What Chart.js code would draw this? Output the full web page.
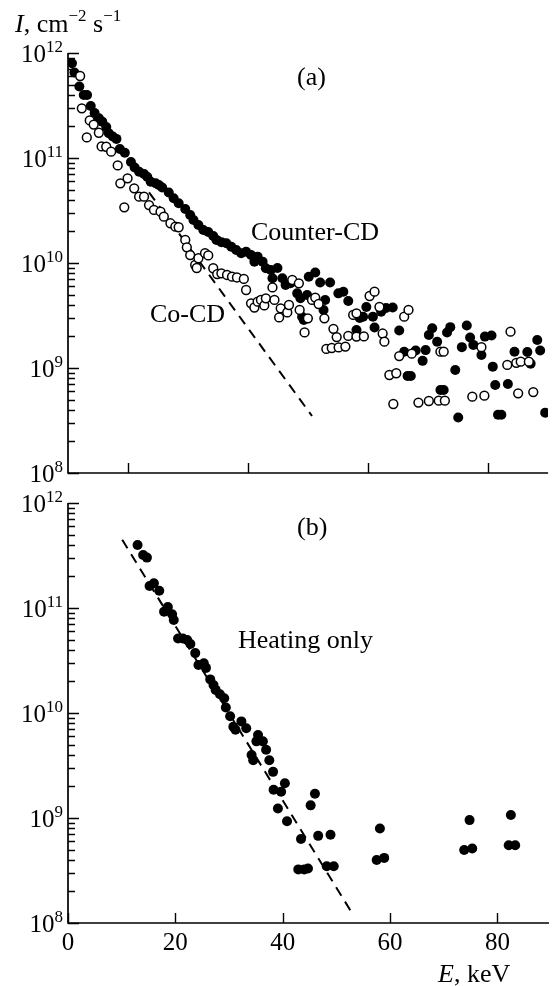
<!DOCTYPE html>
<html>
<head>
<meta charset="utf-8">
<script src="https://cdn.jsdelivr.net/npm/chart.js@4.4.0/dist/chart.umd.min.js"></script>
<style>
  html, body { margin: 0; padding: 0; background: #fff; }
  #wrap { position: relative; width: 554px; height: 986px; }
  canvas { position: absolute; left: 0; }
  #chartA { top: 0; }
  #chartB { top: 486px; }
</style>
</head>
<body>
<div id="wrap">
  <canvas id="chartA" width="554" height="486"></canvas>
  <canvas id="chartB" width="554" height="500"></canvas>
</div>
<script>
// (a) Counter-CD, filled circles
const counterE = [0.66, 1.07, 1.89, 2.63, 3.18, 3.79, 4.44, 5.15, 5.71, 6.37, 6.80, 7.46, 8.07, 8.64, 9.47,
  10.49, 11.11, 11.85, 12.67, 13.22, 13.78, 14.60, 15.14, 15.69, 16.79, 17.61, 18.44, 19.54, 20.36, 20.91,
  21.73, 22.55, 23.37, 24.20, 24.74, 25.56, 26.39, 27.21, 28.03, 28.86, 29.68, 30.50, 31.06, 31.60, 32.43,
  32.97, 33.79, 34.07, 34.90, 35.72, 36.26, 37.09, 38.19, 38.73, 39.01, 39.29, 39.84, 40.12, 41.20, 42.02,
  42.58, 42.85, 43.67, 45.05, 45.88, 46.70, 48.07, 48.61, 49.17, 49.71, 50.81, 51.08, 52.18, 53.00, 54.11,
  55.19, 56.02, 56.58, 57.12, 57.94, 59.09, 59.59, 60.13, 60.69, 61.51, 62.06, 62.60, 63.16, 63.70, 64.53,
  65.02, 65.63, 66.45, 67.00, 67.54, 68.89, 69.47, 70.57, 70.78, 71.19, 71.65, 72.21, 73.30, 74.40, 76.54,
  77.09, 78.19, 78.68, 79.51];
const counterI = [7.98e11, 6.52e11, 4.80e11, 3.98e11, 3.98e11, 3.13e11, 2.68e11, 2.39e11, 2.22e11, 1.97e11,
  1.72e11, 1.60e11, 1.52e11, 1.22e11, 1.12e11, 9.16e10, 8.12e10, 7.41e10, 7.04e10, 6.59e10, 5.95e10, 5.74e10,
  5.53e10, 5.24e10, 4.69e10, 4.13e10, 3.71e10, 3.27e10, 2.86e10, 2.57e10, 2.30e10, 2.06e10, 1.97e10, 1.81e10,
  1.66e10, 1.58e10, 1.54e10, 1.43e10, 1.33e10, 1.24e10, 1.28e10, 1.19e10, 1.03e10, 1.15e10, 1.03e10, 8.91e9,
  8.58e9, 7.15e9, 8.96e9, 7.15e9, 6.17e9, 6.41e9, 5.14e9, 4.61e9, 3.08e9, 2.86e9, 4.95e9, 7.41e9, 8.13e9,
  6.52e9, 3.57e9, 4.45e9, 6.52e9, 5.14e9, 5.33e9, 4.35e9, 2.30e9, 2.99e9, 3.08e9, 3.81e9, 3.08e9, 2.43e9,
  3.44e9, 3.73e9, 3.77e9, 2.28e9, 1.43e9, 8.39e8, 8.39e8, 1.47e9, 1.17e9, 1.48e9, 2.06e9, 2.39e9, 1.78e9,
  6.17e8, 6.17e8, 2.18e9, 2.45e9, 9.57e8, 3.38e8, 1.58e9, 2.54e9, 1.95e9, 1.66e9, 1.33e9, 1.99e9, 2.04e9,
  1.03e9, 6.89e8, 3.59e8, 3.59e8, 7.05e8, 1.43e9, 1.42e9, 1.10e9, 1.85e9, 1.47e9, 3.75e8];

// (a) Co-CD, open circles
const coE = [2.02, 2.30, 3.13, 3.62, 4.28, 5.14, 5.60, 6.37, 7.19, 8.28, 8.72, 9.38, 9.93, 11.03, 11.85,
  12.67, 13.50, 14.32, 15.42, 15.97, 17.07, 17.89, 18.44, 19.54, 19.80, 20.36, 21.19, 21.45, 21.73, 22.83,
  23.37, 24.20, 24.86, 25.56, 26.50, 27.33, 28.15, 29.30, 29.68, 30.50, 31.06, 31.60, 32.15, 32.71, 32.97,
  34.07, 34.40, 35.18, 35.44, 36.54, 36.82, 37.37, 38.47, 38.60, 39.42, 39.97, 40.66, 41.20, 41.76, 42.72,
  43.05, 43.95, 44.23, 44.77, 45.10, 46.22, 46.70, 47.52, 48.07, 48.07, 49.30, 50.26, 51.08, 51.90, 52.43,
  52.72, 53.55, 54.21, 54.70, 55.19, 56.02, 56.74, 57.28, 58.39, 60.13, 61.78, 62.06, 62.60, 62.80, 67.37,
  68.89, 69.38, 73.20, 73.74, 74.70, 75.01, 75.44, 76.79, 77.53];
const coI = [6.04e11, 2.97e11, 1.57e11, 2.28e11, 2.08e11, 1.74e11, 1.29e11, 1.28e11, 1.15e11, 8.49e10, 5.74e10,
  3.39e10, 6.41e10, 5.14e10, 4.28e10, 4.28e10, 3.56e10, 3.20e10, 3.08e10, 2.76e10, 2.39e10, 2.22e10, 2.19e10,
  1.66e10, 1.41e10, 1.19e10, 9.57e9, 8.96e9, 1.11e10, 1.24e10, 1.18e10, 8.91e9, 7.85e9, 7.98e9, 7.69e9, 7.41e9,
  7.28e9, 7.05e9, 5.53e9, 4.13e9, 3.77e9, 4.28e9, 4.45e9, 3.94e9, 4.61e9, 5.85e9, 4.45e9, 3.03e9, 3.70e9,
  3.38e9, 3.98e9, 6.89e9, 6.41e9, 3.57e9, 2.18e9, 2.97e9, 4.45e9, 4.69e9, 4.07e9, 2.97e9, 1.52e9, 1.55e9,
  2.36e9, 1.97e9, 1.57e9, 1.60e9, 2.02e9, 3.20e9, 3.32e9, 1.99e9, 2.00e9, 4.85e9, 5.33e9, 3.81e9, 2.13e9,
  1.78e9, 8.58e8, 4.54e8, 8.91e8, 1.30e9, 3.08e9, 3.57e9, 1.37e9, 4.68e8, 4.85e8, 4.88e8, 1.43e9, 1.43e9,
  4.88e8, 5.33e8, 1.58e9, 5.45e8, 1.07e9, 2.22e9, 1.12e9, 5.74e8, 1.15e9, 1.15e9, 5.90e8];

// (a) exponential fit to the Co-CD spectrum
const coFitE = [13.5, 40.66];
const coFitI = [4.71e10, 3.49e8];

// (b) heating only
const heatE = [12.96, 14.0, 14.7, 15.2, 16.0, 17.0, 17.9, 18.6, 19.4, 19.7, 20.5, 21.4, 22.2, 22.8, 23.7,
  24.3, 25.3, 25.7, 26.5, 27.1, 27.5, 28.3, 29.1, 29.4, 30.2, 30.8, 31.2, 32.3, 33.2, 34.2, 34.5, 35.1,
  35.4, 36.3, 36.9, 37.5, 38.2, 38.3, 39.1, 39.7, 40.4, 40.8, 43.4, 42.9, 44.0, 44.7, 45.2, 46.0, 46.6,
  48.2, 48.9, 49.5, 57.5, 58.9, 58.1, 73.8, 75.3, 74.8, 82.1, 83.3, 82.5];
const heatI = [3.98e11, 3.20e11, 3.02e11, 1.62e11, 1.72e11, 1.46e11, 9.23e10, 1.02e11, 8.71e10, 7.69e10,
  5.13e10, 5.13e10, 4.95e10, 4.54e10, 3.72e10, 2.86e10, 2.97e10, 2.69e10, 2.09e10, 1.85e10, 1.66e10, 1.51e10,
  1.38e10, 1.13e10, 9.33e9, 7.41e9, 6.92e9, 8.32e9, 7.16e9, 3.98e9, 3.55e9, 5.37e9, 6.17e9, 5.37e9, 4.47e9,
  3.55e9, 2.75e9, 1.86e9, 1.23e9, 1.78e9, 2.14e9, 9.33e8, 6.31e8, 3.24e8, 3.24e8, 3.31e8, 1.32e9, 1.70e9,
  6.76e8, 3.47e8, 6.92e8, 3.47e8, 3.98e8, 4.17e8, 7.94e8, 4.95e8, 5.13e8, 9.55e8, 5.50e8, 5.50e8, 1.07e9];

const heatFitE = [10.1, 52.6];
const heatFitI = [4.47e11, 1.32e8];

const decades = [8, 9, 10, 11, 12];
const xTicksA = [10, 30, 50, 70];
const xTicksB = [0, 20, 40, 60, 80];
const xLabelsB = ['0', '20', '40', '60', '80'];

const SERIF = '"Liberation Serif", "DejaVu Serif", serif';

function pts(xs, ys) {
  return xs.map((x, i) => ({ x: x, y: ys[i] }));
}

// text runs: [text, size, italic, raise]
function drawRuns(ctx, runs, x, y) {
  let cx = x;
  runs.forEach(r => {
    ctx.font = (r[2] ? 'italic ' : '') + r[1] + 'px ' + SERIF;
    ctx.fillText(r[0], cx, y - (r[3] || 0));
    cx += ctx.measureText(r[0]).width;
  });
}

// axis lines, inward ticks, power-of-ten labels and annotations
const frame = {
  id: 'frame',
  afterDraw(chart, args, opts) {
    const ctx = chart.ctx;
    const xs = chart.scales.x, ys = chart.scales.y;
    const a = chart.chartArea;
    ctx.save();
    ctx.strokeStyle = '#000';
    ctx.fillStyle = '#000';
    ctx.lineWidth = 1.7;
    ctx.beginPath();
    ctx.moveTo(a.left, a.top);
    ctx.lineTo(a.left, a.bottom);
    ctx.lineTo(a.right, a.bottom);
    ctx.stroke();

    ctx.lineWidth = 1.4;
    ctx.beginPath();
    decades.forEach(p => {
      const steps = p < 12 ? 9 : 1;
      for (let m = 1; m <= steps; m++) {
        const y = Math.round(ys.getPixelForValue(m * Math.pow(10, p))) + 0.5;
        const len = m === 1 ? 11 : 7;
        ctx.moveTo(a.left, y);
        ctx.lineTo(a.left + len, y);
      }
    });
    opts.xTicks.forEach(v => {
      const x = Math.round(xs.getPixelForValue(v)) + 0.5;
      ctx.moveTo(x, a.bottom);
      ctx.lineTo(x, a.bottom - 10);
    });
    ctx.stroke();

    ctx.textBaseline = 'alphabetic';
    ctx.textAlign = 'left';
    decades.forEach(p => {
      const y = ys.getPixelForValue(Math.pow(10, p));
      ctx.font = '17px ' + SERIF;
      const ew = ctx.measureText(String(p)).width;
      ctx.font = '25px ' + SERIF;
      const bw = ctx.measureText('10').width;
      const x0 = a.left - 5 - ew - bw;
      ctx.fillText('10', x0, y + 9);
      ctx.font = '17px ' + SERIF;
      ctx.fillText(String(p), x0 + bw, y - 1);
    });

    if (opts.xLabels) {
      ctx.font = '25px ' + SERIF;
      ctx.textAlign = 'center';
      opts.xTicks.forEach((v, i) => {
        ctx.fillText(opts.xLabels[i], xs.getPixelForValue(v), a.bottom + 27);
      });
      ctx.textAlign = 'left';
    }

    (opts.texts || []).forEach(t => {
      drawRuns(ctx, t.runs, t.x, t.y);
    });
    ctx.restore();
  }
};

function baseOptions(xMax, padBottom, padTop) {
  return {
    responsive: false,
    animation: false,
    layout: { padding: { left: 68, right: 0, top: padTop, bottom: padBottom } },
    plugins: { legend: { display: false }, tooltip: { enabled: false } },
    scales: {
      x: { type: 'linear', min: 0, max: xMax, display: false },
      y: { type: 'logarithmic', min: 1e8, max: 1e12, display: false }
    }
  };
}

const optsA = baseOptions(80, 13, 53);
optsA.plugins.frame = {
  xTicks: xTicksA,
  texts: [
    { x: 15, y: 32, runs: [['I', 26, true], [', cm', 26], ['\u22122', 17, false, 11], [' s', 26], ['\u22121', 17, false, 11]] },
    { x: 297, y: 85, runs: [['(a)', 26]] },
    { x: 251, y: 240, runs: [['Counter-CD', 26]] },
    { x: 150, y: 322, runs: [['Co-CD', 26]] }
  ]
};

new Chart(document.getElementById('chartA'), {
  type: 'scatter',
  data: {
    datasets: [
      {
        label: 'Co-CD',
        data: pts(coE, coI),
        order: 0,
        pointRadius: 4.4,
        pointBackgroundColor: '#fff',
        pointBorderColor: '#000',
        pointBorderWidth: 1.5
      },
      {
        label: 'Counter-CD',
        data: pts(counterE, counterI),
        order: 1,
        pointRadius: 5,
        pointBackgroundColor: '#000',
        pointBorderColor: '#000',
        pointBorderWidth: 0
      },
      {
        type: 'line',
        label: 'fit',
        data: pts(coFitE, coFitI),
        order: 2,
        borderColor: '#000',
        borderWidth: 2,
        borderDash: [10, 7],
        pointRadius: 0,
        fill: false
      }
    ]
  },
  options: optsA,
  plugins: [frame]
});

const optsB = baseOptions(89.6, 63, 17);
optsB.plugins.frame = {
  xTicks: xTicksB,
  xLabels: xLabelsB,
  texts: [
    { x: 297, y: 49, runs: [['(b)', 26]] },
    { x: 238, y: 162, runs: [['Heating only', 26]] },
    { x: 438, y: 496, runs: [['E', 26, true], [', keV', 26]] }
  ]
};

new Chart(document.getElementById('chartB'), {
  type: 'scatter',
  data: {
    datasets: [
      {
        label: 'Heating only',
        data: pts(heatE, heatI),
        order: 0,
        pointRadius: 5,
        pointBackgroundColor: '#000',
        pointBorderColor: '#000',
        pointBorderWidth: 0
      },
      {
        type: 'line',
        label: 'fit',
        data: pts(heatFitE, heatFitI),
        order: 1,
        borderColor: '#000',
        borderWidth: 2,
        borderDash: [10, 7],
        pointRadius: 0,
        fill: false
      }
    ]
  },
  options: optsB,
  plugins: [frame]
});
</script>
</body>
</html>
